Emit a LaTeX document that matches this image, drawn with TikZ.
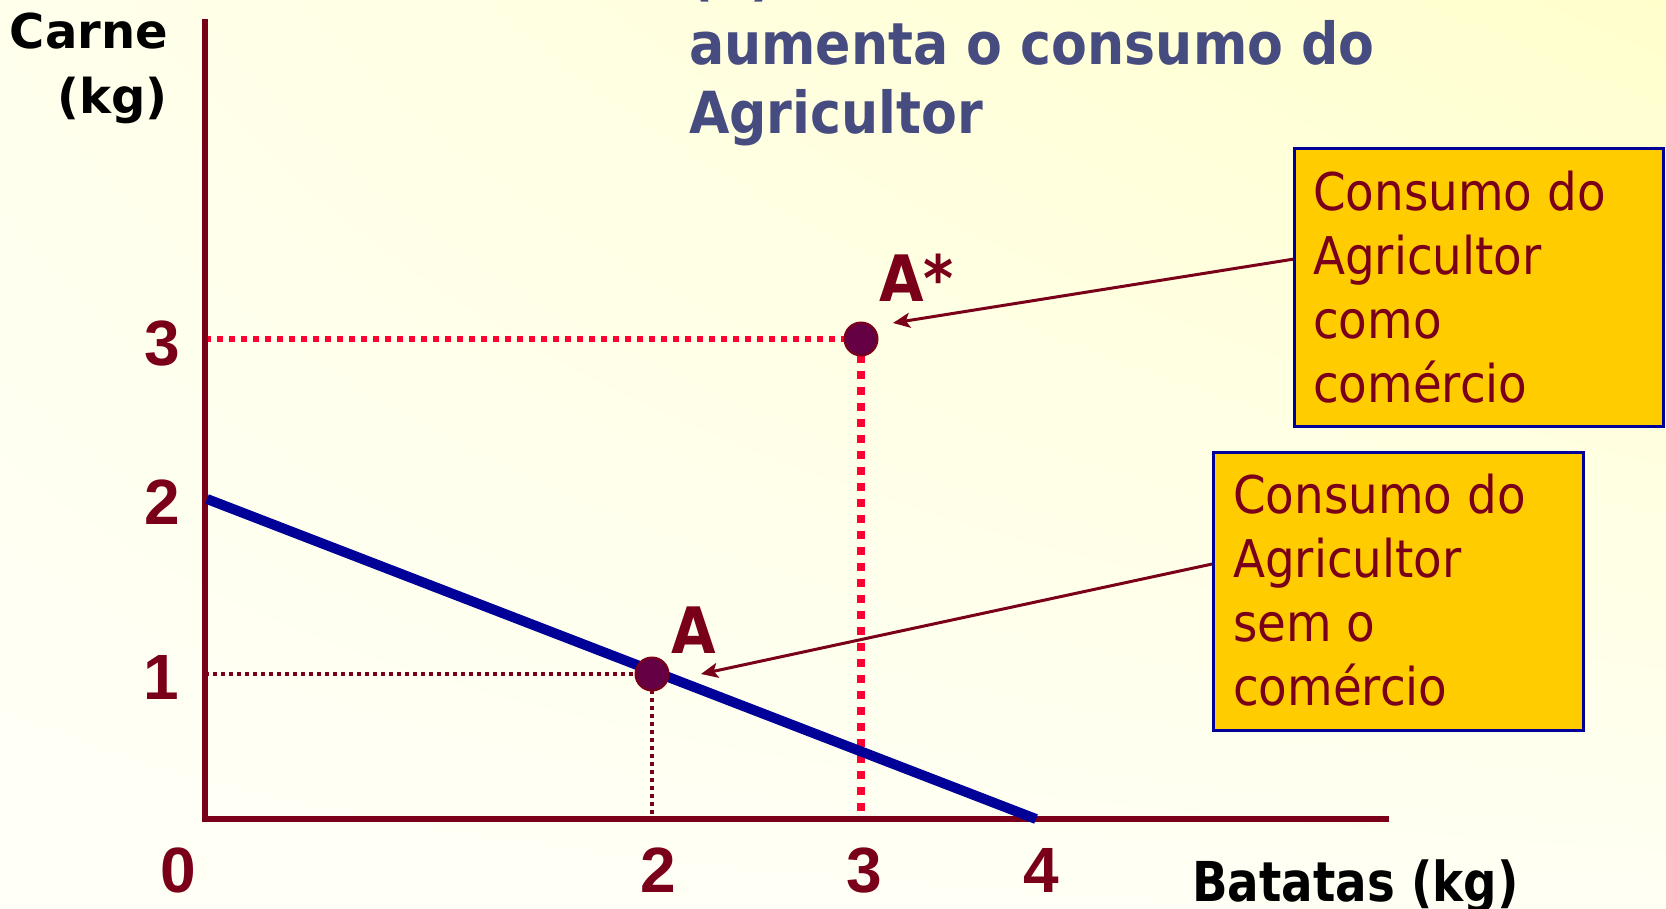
\documentclass[tikz,border=0pt]{standalone}
\usepackage{fontspec}
\usetikzlibrary{arrows.meta,calc,shadings}
\newfontfamily\ttlfont[FakeStretch=0.9]{DejaVu Sans}
\newfontfamily\axfont{DejaVu Sans}
\newfontfamily\batfont[FakeStretch=0.85]{DejaVu Sans}
\newfontfamily\boxfont[FakeStretch=0.9]{DejaVu Sans}
\newfontfamily\ptfont[FakeStretch=0.9]{DejaVu Sans}
\newfontfamily\numfont{Liberation Sans}
\definecolor{dred}{HTML}{7A0019}
\definecolor{bline}{HTML}{000099}
\definecolor{ttlc}{HTML}{464B80}
\definecolor{rdot}{HTML}{FF0033}
\definecolor{dotfill}{HTML}{660044}
\definecolor{boxfill}{HTML}{FFCC00}
\definecolor{bgA}{HTML}{FFFFEC}
\definecolor{bgB}{HTML}{FFFFCC}
\definecolor{bgC}{HTML}{FFFFF7}
\definecolor{bgD}{HTML}{FFFFF4}
\tikzset{
  axisline/.style={draw=dred, line width=6pt, line join=miter},
  budget/.style={draw=bline, line width=10pt},
  dotdark/.style={draw=dred, line width=4pt, dash pattern=on 4pt off 4pt},
  dotredh/.style={draw=rdot, line width=5.5pt, dash pattern=on 6pt off 6pt},
  dotredv/.style={draw=rdot, line width=7.5pt, dash pattern=on 8pt off 8pt},
  dotpt/.style={circle, fill=dotfill, draw=dred, line width=2pt, minimum size=33pt, inner sep=0pt},
  cbox/.style={rectangle, fill=boxfill, draw=bline, line width=2.5pt, inner sep=0pt, anchor=north west},
  boxtext/.style={text=dred, font=\boxfont\fontsize{52}{64}\selectfont, align=left, inner sep=0pt, anchor=base west},
  numlab/.style={text=dred, font=\numfont\bfseries\fontsize{64}{64}\selectfont, inner sep=0pt, anchor=base},
  ptlab/.style={text=dred, font=\ptfont\bfseries\fontsize{64}{64}\selectfont, inner sep=0pt, anchor=base west},
  pointer/.style={draw=dred, line width=3pt, -{Stealth[length=17pt,width=15pt,inset=4pt]}},
}
\begin{document}
\begin{tikzpicture}[x=1pt,y=-1pt]
\useasboundingbox (0,0) rectangle (1666,908);
\shade[upper left=bgA, upper right=bgB, lower left=bgC, lower right=bgD] (0,0) rectangle (1666,908);

% title (multi-line nodes: base anchor is the last line's baseline)
\node[text=ttlc, font=\ttlfont\bfseries\fontsize{58}{69}\selectfont, inner sep=0pt, anchor=base west] (ttlb) at (689,-6) {(b)};
\node[text=ttlc, font=\ttlfont\bfseries\fontsize{58}{69}\selectfont, inner sep=0pt, anchor=base west, align=left] (ttl) at (689,133) {aumenta o consumo do\\Agricultor};

% axis labels
\node[font=\axfont\bfseries\fontsize{48}{65}\selectfont, inner sep=0pt, anchor=base east, align=right] (ylab) at (168,113) {Carne\\(kg)};
\node[font=\batfont\bfseries\fontsize{55}{60}\selectfont, inner sep=0pt, anchor=base west] (xlab) at (1192,901) {Batatas (kg)};

% key coordinates
\coordinate (O) at (205,819);
\coordinate (ytop) at (205,19);
\coordinate (xend) at (1389,819);
\coordinate (pA) at (652,674);
\coordinate (pAs) at (861,339);
\coordinate (b0) at (207,499);
\coordinate (b1) at (1036,819);

% guide lines
\draw[dotdark] (pA -| O) -- (pA);
\draw[dotdark] (pA) -- (pA |- O);
\draw[dotredh] (pAs -| O) -- (pAs);
\draw[dotredv] (pAs) -- (pAs |- O);

% axes
\draw[axisline] (ytop) -- (O) -- (xend);

% budget line
\draw[budget] (b0) -- (b1);

% points
\node[dotpt] (A) at (pA) {};
\node[dotpt] (As) at (pAs) {};
\node[ptlab] (lA) at (671,653) {A};
\node[ptlab] (lAs) at (879,301) {A*};

% tick labels
\node[numlab] (y3) at (162,365) {3};
\node[numlab] (y2) at (162,524) {2};
\node[numlab] (y1) at (161,699) {1};
\node[numlab] (x0) at (178,892) {0};
\node[numlab] (x2) at (658,892) {2};
\node[numlab] (x3) at (864,892) {3};
\node[numlab] (x4) at (1041,892) {4};

% boxes
\node[cbox, minimum width=369pt, minimum height=278pt] (box1) at (1293,147) {};
\node[boxtext] (t1) at (1313,402) {Consumo do\\Agricultor\\como\\comércio};
\node[cbox, minimum width=370pt, minimum height=278pt] (box2) at (1212,451) {};
\node[boxtext] (t2) at (1233,705) {Consumo do\\Agricultor\\sem o\\comércio};

% arrows
\draw[pointer] ($(box1.north west)!0.4!(box1.south west)$) -- ([shift={(32,-16)}]As.center);
\draw[pointer] ($(box2.north west)!0.403!(box2.south west)$) -- ([shift={(49,0)}]A.center);
\end{tikzpicture}
\end{document}
